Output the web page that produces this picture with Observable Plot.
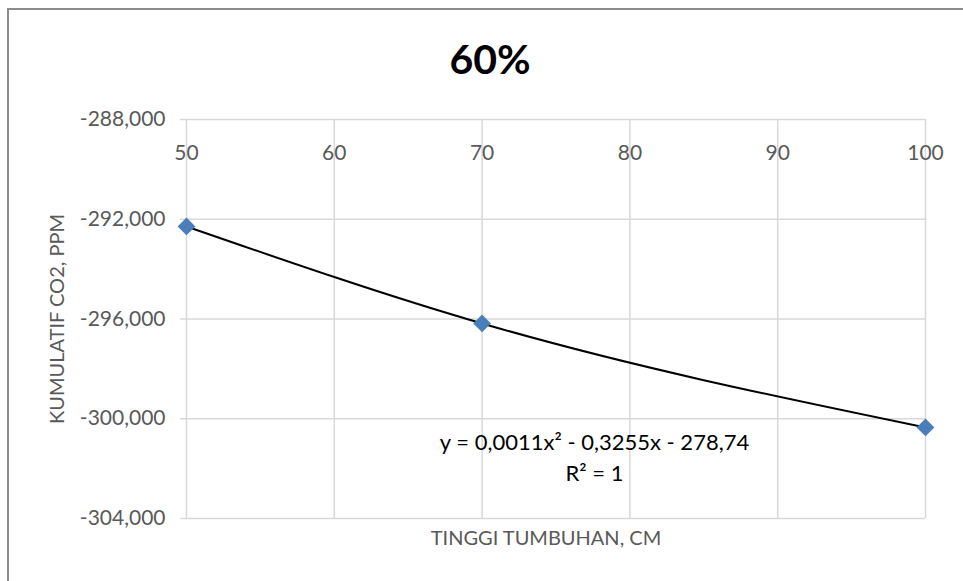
<!DOCTYPE html>
<html>
<head>
<meta charset="utf-8">
<script src="https://cdn.jsdelivr.net/npm/d3@7"></script>
<script src="https://cdn.jsdelivr.net/npm/@observablehq/plot@0.6"></script>
<style>
  html, body { margin: 0; padding: 0; background: #fff; }
  #wrap { position: relative; width: 963px; height: 581px; overflow: hidden; font-family: Lato, "Open Sans", sans-serif; }
  #border { position: absolute; left: 7px; top: 8px; width: 1000px; height: 700px; border-left: 2px solid #8c8c8c; border-top: 2px solid #8c8c8c; }
  #title { position: relative; height: 100px; line-height: 118px; text-align: center; padding-left: 17px; box-sizing: border-box; font-size: 41px; font-weight: bold; color: #000; }
  #chart svg { display: block; }
</style>
</head>
<body>
<div id="wrap">
  <div id="border"></div>
  <div id="title"></div>
  <div id="chart"></div>
</div>
<script>
const titleText = "60%";
const xLabel = "TINGGI TUMBUHAN, CM";
const yLabel = "KUMULATIF CO2, PPM";
const xValues = [50, 70, 100];
const yValues = [-292.29, -296.18, -300.35];
const xTicks = [50, 60, 70, 80, 90, 100];
const yTicks = [-288, -292, -296, -300, -304];
const equationLines = ["y = 0,0011x\u00B2 - 0,3255x - 278,74", "R\u00B2 = 1"];

document.getElementById("title").textContent = titleText;

const data = xValues.map((x, i) => ({x, y: yValues[i]}));
const fmtY = d => d.toFixed(3).replace(".", ",");
const gridColor = "#d9d9d9";
const textColor = "#595959";
const fs = 21;

const chart = Plot.plot({
  width: 963,
  height: 481,
  marginTop: 19,
  marginBottom: 63,
  marginLeft: 186,
  marginRight: 38,
  style: {fontFamily: "Lato, 'Open Sans', sans-serif", background: "transparent", overflow: "visible"},
  x: {domain: [50, 100]},
  y: {domain: [-304, -288]},
  marks: [
    Plot.gridX(xTicks, {stroke: gridColor, strokeOpacity: 1, strokeWidth: 1.5}),
    Plot.gridY(yTicks, {stroke: gridColor, strokeOpacity: 1, strokeWidth: 1.5, insetLeft: -6}),
    Plot.axisX(xTicks, {anchor: "top", tickSize: 0, tickPadding: 0, dy: 40, fontSize: fs, color: textColor, label: null}),
    Plot.axisY(yTicks, {anchor: "left", tickSize: 0, tickPadding: 21, tickFormat: fmtY, fontSize: fs, color: textColor, label: null}),
    Plot.line(data, {x: "x", y: "y", curve: "monotone-x", stroke: "#000", strokeWidth: 2}),
    Plot.dot(data, {x: "x", y: "y", symbol: "diamond2", r: 8, fill: "#4a7ebb", stroke: "none"}),
    Plot.text([equationLines[0]], {frameAnchor: "top-left", dx: 408, dy: 323, fontSize: 22, fill: "#000", textAnchor: "middle", lineAnchor: "middle"}),
    Plot.text([equationLines[1]], {frameAnchor: "top-left", dx: 408, dy: 354, fontSize: 22, fill: "#000", textAnchor: "middle", lineAnchor: "middle"}),
    Plot.text([xLabel], {frameAnchor: "bottom", dx: -10, dy: 20, fontSize: 20, fill: textColor, textAnchor: "middle", lineAnchor: "middle"}),
    Plot.text([yLabel], {frameAnchor: "left", dx: -129, rotate: -90, fontSize: 20, fill: textColor, textAnchor: "middle", lineAnchor: "middle"})
  ]
});
document.getElementById("chart").appendChild(chart);
</script>
</body>
</html>
